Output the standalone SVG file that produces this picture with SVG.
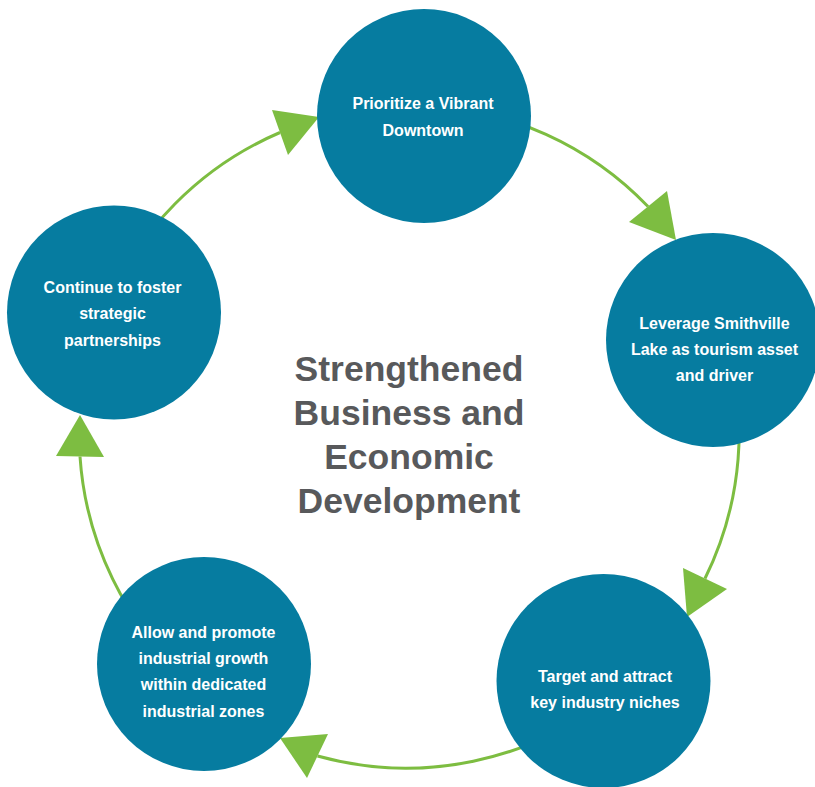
<svg xmlns="http://www.w3.org/2000/svg" width="815" height="787" viewBox="0 0 815 787">
  <style>
    .arc { fill: none; stroke: #7dbd41; stroke-width: 3; }
    .head { fill: #7dbd41; }
    .node { fill: #067ca0; }
    .lbl { fill: #ffffff; font-family: "Liberation Sans", Arial, sans-serif; font-weight: bold; font-size: 16px; text-anchor: middle; }
    .title { fill: #58595b; font-family: "Liberation Sans", Arial, sans-serif; font-weight: bold; font-size: 35.5px; text-anchor: middle; }
  </style>
  <rect width="815" height="787" fill="#ffffff"/>
  <g id="connectors">
    <path class="arc" d="M 105.1,308.7 A 330 330 0 0 1 280,132.5"/>
    <polygon class="head" points="272,110 319,117 288,155"/>
    <path class="arc" d="M 424.4,105.3 A 330 330 0 0 1 648,206.5"/>
    <polygon class="head" points="667,191 629,222 676,240"/>
    <path class="arc" d="M 724.9,336.3 A 330 330 0 0 1 705,578.5"/>
    <polygon class="head" points="683,568 727,589 687,617"/>
    <path class="arc" d="M 614.1,694.3 A 330 330 0 0 1 317.5,756"/>
    <polygon class="head" points="280,738 328,734 307,778"/>
    <path class="arc" d="M 189.3,680.3 A 330 330 0 0 1 80,456.5"/>
    <polygon class="head" points="80,415 56,456 104,457"/>
  </g>
  <g id="node-downtown">
    <circle class="node" cx="424" cy="116" r="107"/>
    <text class="lbl" x="423" y="109">Prioritize a Vibrant</text>
    <text class="lbl" x="423" y="136">Downtown</text>
  </g>
  <g id="node-lake">
    <circle class="node" cx="713" cy="340" r="107"/>
    <text class="lbl" x="714.5" y="329">Leverage Smithville</text>
    <text class="lbl" x="714.5" y="355">Lake as tourism asset</text>
    <text class="lbl" x="714.5" y="381">and driver</text>
  </g>
  <g id="node-industry">
    <circle class="node" cx="603.5" cy="681" r="107"/>
    <text class="lbl" x="605" y="682">Target and attract</text>
    <text class="lbl" x="605" y="708">key industry niches</text>
  </g>
  <g id="node-zones">
    <circle class="node" cx="204" cy="664" r="107"/>
    <text class="lbl" x="203.5" y="638">Allow and promote</text>
    <text class="lbl" x="203.5" y="664">industrial growth</text>
    <text class="lbl" x="203.5" y="690">within dedicated</text>
    <text class="lbl" x="203.5" y="717">industrial zones</text>
  </g>
  <g id="node-partnerships">
    <circle class="node" cx="114" cy="312.5" r="107"/>
    <text class="lbl" x="112.5" y="293">Continue to foster</text>
    <text class="lbl" x="112.5" y="319">strategic</text>
    <text class="lbl" x="112.5" y="346">partnerships</text>
  </g>
  <g id="center-title">
    <text class="title" x="409" y="381">Strengthened</text>
    <text class="title" x="409" y="425">Business and</text>
    <text class="title" x="409" y="469">Economic</text>
    <text class="title" x="409" y="513">Development</text>
  </g>
</svg>
